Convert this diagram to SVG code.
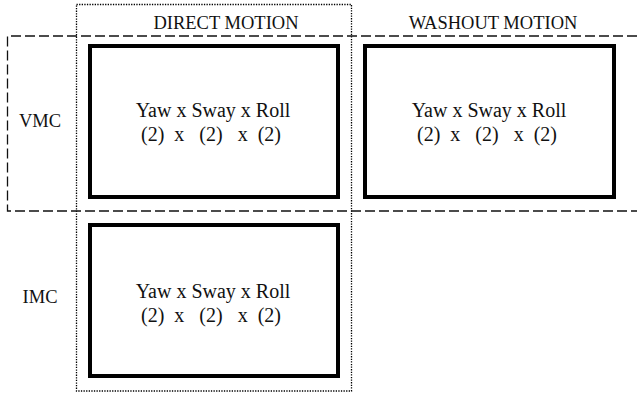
<svg xmlns="http://www.w3.org/2000/svg" width="637" height="394" viewBox="0 0 637 394">
<style>
.box{fill:#fff;stroke:#000;stroke-width:4}
text{font-family:'Liberation Serif','Times New Roman','DejaVu Serif',serif;fill:#111;text-anchor:middle}
.t{font-size:20px;white-space:pre}
.h{font-size:18.5px}
.dash{fill:none;stroke:#111;stroke-width:1.3;stroke-dasharray:10 4}
.dot{fill:none;stroke:#000;stroke-width:1.3;stroke-dasharray:1.3 1.3}
</style>
<rect width="637" height="394" fill="#fff"/>
<g id="regions">
<rect class="dot" x="76.5" y="4.5" width="275" height="386.5"/>
<path class="dash" d="M637,36 H7.5 V211 H637"/>
</g>
<g id="labels">
<text class="h" x="226" y="29">DIRECT MOTION</text>
<text class="h" x="493" y="29">WASHOUT MOTION</text>
<text class="h" x="40" y="127">VMC</text>
<text class="h" x="40" y="303">IMC</text>
</g>
<g id="node-direct-vmc">
<rect class="box" x="90" y="46" width="248" height="151"/>
<text class="t" x="213" y="117">Yaw x Sway x Roll</text>
<text class="t" x="211" y="141">(2)  x   (2)   x  (2)</text>
</g>
<g id="node-washout-vmc">
<rect class="box" x="365" y="46" width="249" height="151"/>
<text class="t" x="489" y="117">Yaw x Sway x Roll</text>
<text class="t" x="487" y="141">(2)  x   (2)   x  (2)</text>
</g>
<g id="node-direct-imc">
<rect class="box" x="90" y="225" width="248" height="151"/>
<text class="t" x="213" y="298">Yaw x Sway x Roll</text>
<text class="t" x="211" y="322">(2)  x   (2)   x  (2)</text>
</g>
<g id="connectors"></g>
</svg>
